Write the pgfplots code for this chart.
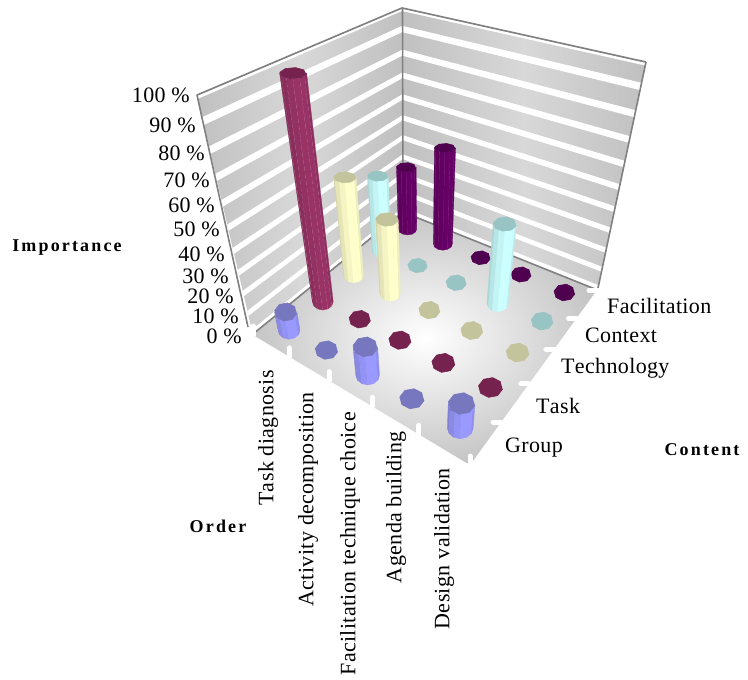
\documentclass[border=0pt]{standalone}
\usepackage{pgfplots}
\usepackage{pgfplotstable}
\usepackage{fontspec}
\pgfplotsset{compat=1.18}
\setmainfont[Kerning=Off,LetterSpace=1.6]{Liberation Serif}
\newfontfamily\titlefont[LetterSpace=12,Kerning=Off]{Liberation Serif}

\definecolor{Group}{HTML}{9999FF}
\definecolor{Grouptop}{HTML}{7777C0}
\definecolor{Task}{HTML}{993366}
\definecolor{Tasktop}{HTML}{75234E}
\definecolor{Technology}{HTML}{FFFFCC}
\definecolor{Technologytop}{HTML}{C4C49C}
\definecolor{Context}{HTML}{CCFFFF}
\definecolor{Contexttop}{HTML}{99C4C4}
\definecolor{Facilitation}{HTML}{660066}
\definecolor{Facilitationtop}{HTML}{4F004F}
\definecolor{wallgrey}{HTML}{C0C0C0}
\definecolor{wallmid}{HTML}{D8D8D8}
\definecolor{framegrey}{HTML}{808080}

% Importance (percent) by order step and content category
\pgfplotstableread{
order Group Task Technology Context Facilitation
0     10    100  50         40      34
1     1     1    38         1       50
2     15    1    1          1       1
3     1     1    1          40      1
4     13    1    1          1       1
}\importancedata

% Perspective projection of the floor (s,t in 0..1) and height z in 0..1
\newcommand\project[3]{%
  \pgfmathsetmacro\w{-0.18912*(#1)+0.24236*(#2)+1-0.238*(#3)}%
  \pgfmathsetmacro\px{(128.11*(#1)+247.67*(#2)+253-101*(#3))/\w}%
  \pgfmathsetmacro\py{(42.06*(#1)-71.62*(#2)+335-258*(#3))/\w}%
}
% Radii of a column's cross-section at the projected point just computed
\newcommand\radii{%
  \pgfmathsetmacro\rx{11/\w}%
  \pgfmathsetmacro\ry{\rx*max(0.42,min(0.82,0.42+(\py-150)*0.00267))}%
}
% Vertical wall edges at the left, back and right corners
\newcommand\pointL[1]{%
  \pgfmathsetmacro\w{1-0.238*(#1)}%
  \pgfmathsetmacro\px{(253-102.9*(#1))/\w}%
  \pgfmathsetmacro\py{(335-262.6*(#1))/\w}%
}
\newcommand\pointB[1]{%
  \pgfmathsetmacro\w{1.24236-0.238*(#1)}%
  \pgfmathsetmacro\px{(500.67-96.9*(#1))/\w}%
  \pgfmathsetmacro\py{(263.38-255.4*(#1))/\w}%
}
\newcommand\pointR[1]{%
  \pgfmathsetmacro\w{1.05324-0.238*(#1)}%
  \pgfmathsetmacro\px{(628.78-102.2*(#1))/\w}%
  \pgfmathsetmacro\py{(305.44-254.9*(#1))/\w}%
}
% Quadrilateral between two wall edges, heights #3 to #4
\newcommand\wallquad[5]{%
  #1{#3}\edef\xa{\px}\edef\ya{\py}%
  #2{#3}\edef\xb{\px}\edef\yb{\py}%
  #2{#4}\edef\xc{\px}\edef\yc{\py}%
  #1{#4}\edef\xd{\px}\edef\yd{\py}%
  \edef\cmd{\noexpand\addplot[#5] coordinates {(\xa,\ya)(\xb,\yb)(\xc,\yc)(\xd,\yd)(\xa,\ya)};}\cmd
}
\newcommand\wallline[3]{%
  #1{#3}\edef\xa{\px}\edef\ya{\py}%
  #2{#3}\edef\xb{\px}\edef\yb{\py}%
  \edef\cmd{\noexpand\addplot[draw=framegrey,line width=1.6pt] coordinates {(\xa,\ya)(\xb,\yb)};}\cmd
}
% One faceted column: centre s,t, height z, series name
\newcommand\column[4]{%
  \project{#1}{#2}{0}\radii
  \edef\bx{\px}\edef\by{\py}\edef\brx{\rx}\edef\bry{\ry}%
  \project{#1}{#2}{#3}\radii
  \edef\tx{\px}\edef\ty{\py}\edef\trx{\rx}\edef\try{\ry}%
  \ifdim #3pt>0.05pt
    \foreach \a/\shade in {180/84,150/90,120/96,90/100,60/100,30/93}{%
      \pgfmathsetmacro\b{\a-30}%
      \pgfmathsetmacro\xa{\bx+\brx*cos(\a)}\pgfmathsetmacro\ya{\by+\bry*sin(\a)}%
      \pgfmathsetmacro\xb{\bx+\brx*cos(\b)}\pgfmathsetmacro\yb{\by+\bry*sin(\b)}%
      \pgfmathsetmacro\xc{\tx+\trx*cos(\b)}\pgfmathsetmacro\yc{\ty+\try*sin(\b)}%
      \pgfmathsetmacro\xd{\tx+\trx*cos(\a)}\pgfmathsetmacro\yd{\ty+\try*sin(\a)}%
      \edef\cmd{\noexpand\addplot[fill=#4!\shade!black,draw=#4!\shade!black,line width=0.3pt] coordinates {(\xa,\ya)(\xb,\yb)(\xc,\yc)(\xd,\yd)(\xa,\ya)};}\cmd
      \ifdim \b pt>0pt
        \edef\cmd{\noexpand\addplot[#4 edge] coordinates {(\xb,\yb)(\xc,\yc)};}\cmd
      \fi
    }%
  \fi
  \gdef\coords{}%
  \foreach \a in {0,45,...,315}{%
    \pgfmathsetmacro\xa{\tx+\trx*cos(\a+10)}\pgfmathsetmacro\ya{\ty+\try*sin(\a+10)}%
    \xdef\coords{\coords(\xa,\ya)}%
  }%
  \edef\cmd{\noexpand\addplot[fill=#4top,draw=#4top,line width=0.6pt,line join=round] coordinates {\coords};}\cmd
}
\tikzset{
  lab/.style={font=\fontsize{22}{24}\selectfont,inner sep=0pt},
  ttl/.style={font=\titlefont\fontsize{18}{20}\selectfont\bfseries,inner sep=0pt},
}

\begin{document}
\begin{tikzpicture}
\path[use as bounding box] (0,0) rectangle (748pt,680pt);
\begin{axis}[
  at={(0,0)},anchor=south west,
  scale only axis,width=748pt,height=680pt,
  xmin=0,xmax=748,ymin=0,ymax=680,y dir=reverse,
  hide axis,clip=false,no markers,
  Group edge/.style={draw=Group!90!black,opacity=0.2,line width=0.3pt},
  Task edge/.style={draw=white!65!Task,line width=0.5pt,dash pattern=on 4pt off 3pt},
  Technology edge/.style={draw=Technology!92!black,opacity=0.4,line width=0.3pt},
  Context edge/.style={draw=Context!92!black,opacity=0.4,line width=0.3pt},
  Facilitation edge/.style={draw=white!30!Facilitation,line width=0.4pt},
]
% side walls with their horizontal bands
\wallquad{\pointL}{\pointB}{0}{1}{left color=wallgrey,right color=wallgrey,middle color=wallmid,draw=none}
\wallquad{\pointB}{\pointR}{0}{1}{left color=wallgrey,right color=wallgrey,middle color=wallmid,draw=none}
\foreach \k in {0,...,9}{%
  \pgfmathsetmacro\zl{\k/10+0.002}\pgfmathsetmacro\zh{\k/10+0.028}%
  \wallquad{\pointL}{\pointB}{\zl}{\zh}{fill=white,draw=none}%
  \wallquad{\pointB}{\pointR}{\zl}{\zh}{fill=white,draw=none}%
}
\wallquad{\pointL}{\pointB}{0.988}{0.997}{fill=white,draw=none}
\wallquad{\pointB}{\pointR}{0.988}{0.997}{fill=white,draw=none}
% wall frame
\wallline{\pointL}{\pointB}{1}
\wallline{\pointB}{\pointR}{1}
\addplot[draw=framegrey,line width=1.6pt] coordinates {(197,95)(248,327)};
\addplot[draw=framegrey,line width=1.6pt] coordinates {(402.5,8)(403,212)};
\addplot[draw=framegrey,line width=1.6pt] coordinates {(646,62)(598,288)};
% floor
\addplot[shading=radial,inner color=white,outer color=wallgrey!92!white,draw=none]
  coordinates {(253,335)(470,465)(597,290)(403,212)(253,335)};
\addplot[draw=framegrey,line width=1.6pt] coordinates {(253,334)(403,212)(595,289)};
% tick stubs along the floor edges
\foreach \k in {0,...,5}{%
  \pgfmathsetmacro\sv{\k/5}%
  \project{\sv}{0}{0}\edef\xa{\px}\edef\ya{\py}%
  \pgfmathsetmacro\yb{\ya-9}%
  \edef\cmd{\noexpand\addplot[draw=white,line width=5pt,line cap=round] coordinates {(\xa,\ya)(\xa,\yb)};}\cmd
  \project{1}{\sv}{0}\edef\xa{\px}\edef\ya{\py}%
  \pgfmathsetmacro\xb{\xa-8}%
  \edef\cmd{\noexpand\addplot[draw=white,line width=5pt,line cap=round] coordinates {(\xa,\ya)(\xb,\ya)};}\cmd
}
% columns, back rows first
\foreach \j/\name in {4/Facilitation,3/Context,2/Technology,1/Task,0/Group}{%
  \foreach \i in {0,...,4}{%
    \pgfplotstablegetelem{\i}{\name}\of\importancedata
    \pgfmathsetmacro\zv{\pgfplotsretval/100}%
    \pgfmathsetmacro\sc{(\i+0.5)/5}%
    \pgfmathsetmacro\tc{(\j+0.5)/5}%
    \column{\sc}{\tc}{\zv}{\name}%
  }%
}
% text
\node[lab,anchor=east] at (190,95) {100 \%};
\node[lab,anchor=east] at (196,125) {90 \%};
\node[lab,anchor=east] at (205,153) {80 \%};
\node[lab,anchor=east] at (210,180) {70 \%};
\node[lab,anchor=east] at (215,205) {60 \%};
\node[lab,anchor=east] at (220,229) {50 \%};
\node[lab,anchor=east] at (225,254) {40 \%};
\node[lab,anchor=east] at (229,276) {30 \%};
\node[lab,anchor=east] at (234,296) {20 \%};
\node[lab,anchor=east] at (239,316) {10 \%};
\node[lab,anchor=east] at (242,336) {0 \%};
\node[lab,anchor=west] at (607,306) {Facilitation};
\node[lab,anchor=west] at (585,335) {Context};
\node[lab,anchor=west] at (561,368) {Technology};
\node[lab,anchor=west] at (536,406) {Task};
\node[lab,anchor=west] at (505,448) {Group};
\node[lab,rotate=90,anchor=east] at (268,370) {Task diagnosis};
\node[lab,rotate=90,anchor=east] at (308,392) {Activity decomposition};
\node[lab,rotate=90,anchor=east] at (350,412) {Facilitation technique choice};
\node[lab,rotate=90,anchor=east] at (396,431) {Agenda building};
\node[lab,rotate=90,anchor=east] at (444,468) {Design validation};
\node[ttl] at (67,248) {Importance};
\node[ttl] at (218,526) {Order};
\node[ttl] at (702,450) {Content};
\end{axis}
\end{tikzpicture}
\end{document}
